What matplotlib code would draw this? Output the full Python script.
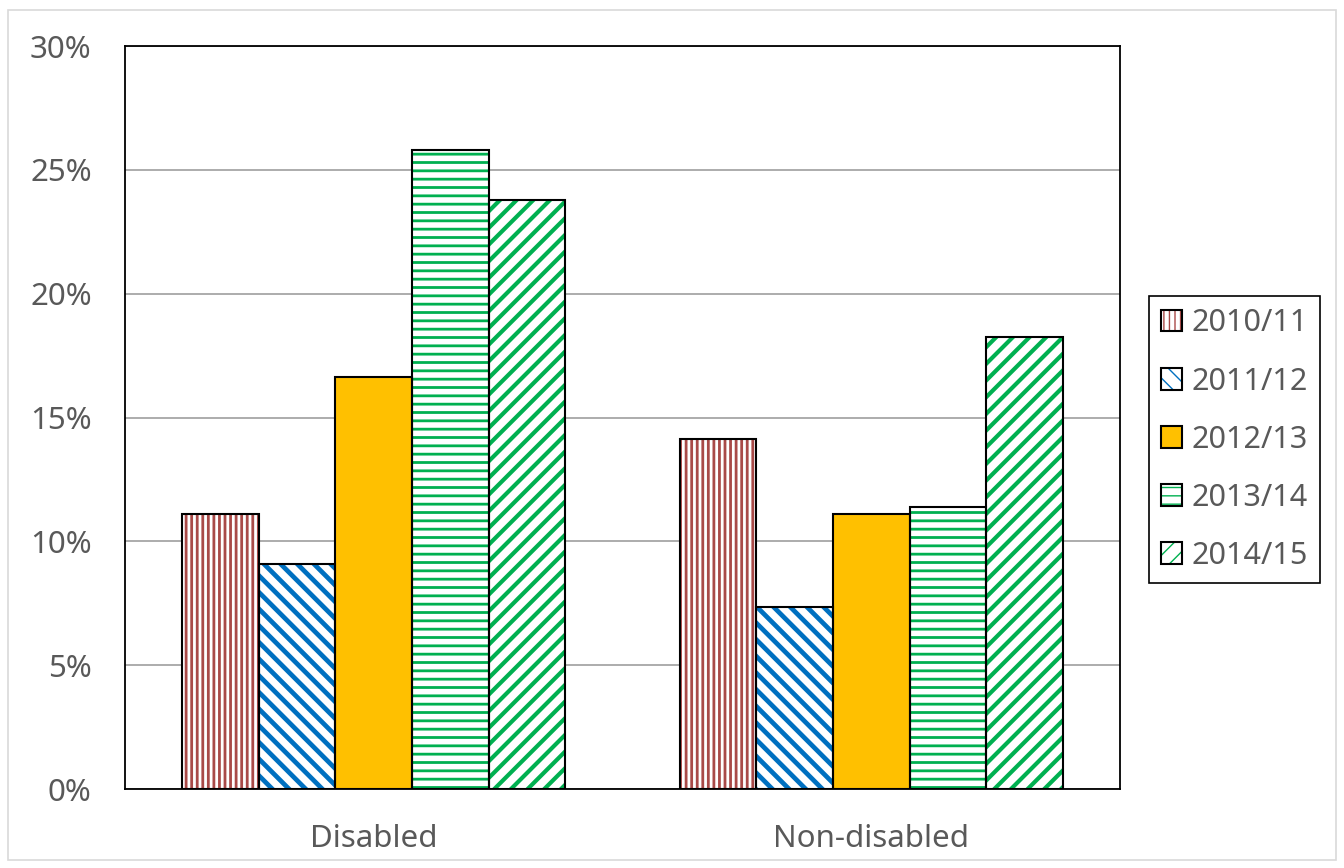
import matplotlib
matplotlib.use("Agg")
import matplotlib.pyplot as plt
from matplotlib.patches import Patch, Rectangle
from matplotlib.legend_handler import HandlerTuple
from matplotlib.ticker import PercentFormatter, MultipleLocator
import numpy as np

# Datos del gráfico
grupos = ["Disabled", "Non-disabled"]
periodos = ["2010/11", "2011/12", "2012/13", "2013/14", "2014/15"]
valores = {
    "2010/11": [0.111, 0.1415],
    "2011/12": [0.091, 0.0735],
    "2012/13": [0.1665, 0.1112],
    "2013/14": [0.258, 0.1138],
    "2014/15": [0.2378, 0.1825],
}

# Estilo de cada serie: color, relleno, trama, grosor de trama
estilos = {
    "2010/11": ("#A94A48", "white", "|||", 2.0),
    "2011/12": ("#0070C0", "white", "\\\\", 3.4),
    "2012/13": ("#FFC000", "#FFC000", "", 1.0),
    "2013/14": ("#00B050", "white", "--", 2.0),
    "2014/15": ("#00B050", "white", "//", 3.0),
}

plt.rcParams["font.family"] = ["Noto Sans", "DejaVu Sans"]
texto = "#595959"

fig = plt.figure(figsize=(13.44, 8.68), dpi=100)
ax = fig.add_axes([0.093, 0.091, 0.7403, 0.856])


def trama_lw(artista, lw):
    if hasattr(artista, "set_hatch_linewidth"):
        artista.set_hatch_linewidth(lw)


x = np.arange(len(grupos))
ancho = 0.154
handles = []
for i, p in enumerate(periodos):
    color, relleno, trama, lw = estilos[p]
    pos = x + (i - 2) * ancho
    with plt.rc_context({"hatch.linewidth": lw}):
        barras = ax.bar(pos, valores[p], ancho, facecolor=relleno, edgecolor=color,
                        hatch=trama, linewidth=0, zorder=2)
        h1 = Patch(facecolor=relleno, edgecolor=color, hatch=trama, linewidth=0)
    for b in barras:
        trama_lw(b, lw)
    trama_lw(h1, lw)
    ax.bar(pos, valores[p], ancho, fill=False, edgecolor="black",
           linewidth=1.5, zorder=3)
    h2 = Patch(fill=False, edgecolor="black", linewidth=1.5)
    handles.append((h1, h2))

ax.set_xlim(-0.5, 1.5)
ax.set_ylim(0, 0.30)
ax.yaxis.set_major_locator(MultipleLocator(0.05))
ax.yaxis.set_major_formatter(PercentFormatter(1, decimals=0))
ax.set_xticks(x)
ax.set_xticklabels(grupos)
ax.tick_params(axis="both", length=0, labelsize=22.5, colors=texto)
ax.tick_params(axis="y", pad=24)
ax.tick_params(axis="x", pad=25)
ax.grid(axis="y", color="#A6A6A6", linewidth=1.3, zorder=0)
ax.set_axisbelow(True)
for s in ax.spines.values():
    s.set_color("black")
    s.set_linewidth(1.3)

leg = fig.legend(handles, periodos, handler_map={tuple: HandlerTuple(ndivide=1)},
                 loc="center", bbox_to_anchor=(0.9185, 0.4935), fontsize=22,
                 handlelength=0.7, handleheight=0.7, handletextpad=0.3,
                 labelspacing=0.92, borderpad=0.4, fancybox=False,
                 edgecolor="black", framealpha=1)
leg.get_frame().set_linewidth(1.2)
for t in leg.get_texts():
    t.set_color(texto)

# Borde gris claro de la figura
fig.patches.append(Rectangle((0.006, 0.009), 0.988, 0.979, transform=fig.transFigure,
                             fill=False, edgecolor="#D9D9D9", linewidth=1.2))

fig.savefig("out.png", dpi=100)
